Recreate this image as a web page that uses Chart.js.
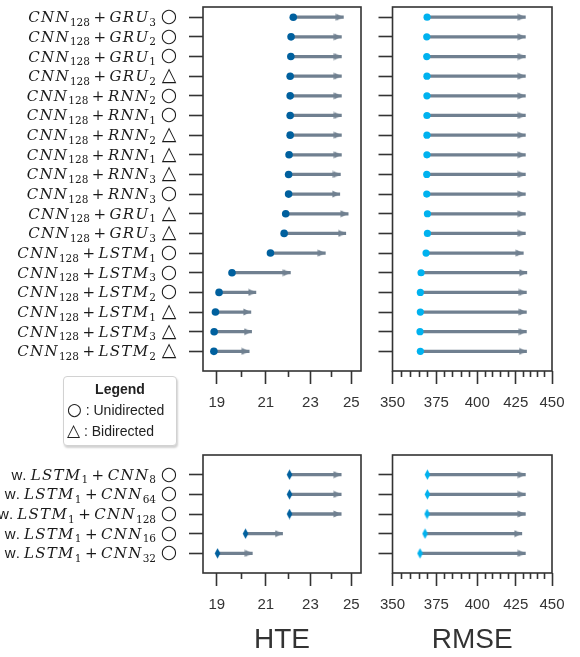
<!DOCTYPE html>
<html>
<head>
<meta charset="utf-8">
<script src="https://cdn.jsdelivr.net/npm/chart.js@4.4.1/dist/chart.umd.min.js"></script>
<style>
  html, body { margin: 0; padding: 0; background: #fff; }
  body { width: 580px; height: 657px; position: relative; overflow: hidden; font-family: 'Liberation Sans', sans-serif; }
  canvas { position: absolute; }
  #legend {
    position: absolute; left: 63px; top: 376px; width: 114px; height: 70px;
    box-sizing: border-box; border: 1px solid #d2d2d2; border-radius: 4px;
    box-shadow: 1px 2px 2px rgba(0, 0, 0, 0.18); background: #fff;
    color: #222; font-size: 14px; line-height: 21px; padding-top: 2px;
  }
  #legend .title { text-align: center; font-weight: bold; }
  #legend .row { padding-left: 3px; white-space: nowrap; }
  #legend .sym { font-family: 'DejaVu Sans', sans-serif; font-size: 17px; line-height: 14px; }
</style>
</head>
<body>
<canvas id="topHte" width="370" height="420" style="left:0;top:0"></canvas>
<canvas id="topRmse" width="210" height="420" style="left:370px;top:0"></canvas>
<canvas id="botHte" width="370" height="217" style="left:0;top:440px"></canvas>
<canvas id="botRmse" width="210" height="217" style="left:370px;top:440px"></canvas>
<div id="legend">
  <div class="title">Legend</div>
  <div class="row"><span class="sym">○</span> : Unidirected</div>
  <div class="row"><span class="sym">△</span> : Bidirected</div>
</div>
<script>
/* ---- DATA ---- */
const topCategories = [
    '$CNN_{128} + GRU_3$', '$CNN_{128} + GRU_2$', '$CNN_{128} + GRU_1$', '$CNN_{128} + GRU_2$',
    '$CNN_{128} + RNN_2$', '$CNN_{128} + RNN_1$', '$CNN_{128} + RNN_2$', '$CNN_{128} + RNN_1$',
    '$CNN_{128} + RNN_3$', '$CNN_{128} + RNN_3$', '$CNN_{128} + GRU_1$', '$CNN_{128} + GRU_3$',
    '$CNN_{128} + LSTM_1$', '$CNN_{128} + LSTM_3$', '$CNN_{128} + LSTM_2$', '$CNN_{128} + LSTM_1$',
    '$CNN_{128} + LSTM_3$', '$CNN_{128} + LSTM_2$'
];
const topMarks = ['○', '○', '○', '△', '○', '○', '△', '△', '△', '○', '△', '△', '○', '○', '○', '△', '△', '△'];

const topHteStart  = [22.21, 22.11, 22.10, 22.07, 22.07, 22.07, 22.07, 22.02, 22.00, 22.00, 21.87, 21.80, 21.20, 19.60, 19.09, 18.95, 18.90, 18.89];
const topHteEnd    = [24.60, 24.50, 24.50, 24.50, 24.50, 24.50, 24.50, 24.50, 24.45, 24.42, 24.84, 24.72, 23.71, 22.08, 20.58, 20.37, 20.40, 20.30];
const topRmseStart = [369.6, 369.4, 369.4, 369.5, 369.5, 369.5, 369.5, 369.5, 369.4, 369.4, 369.8, 369.8, 369.0, 366.1, 365.7, 365.7, 365.5, 365.7];
const topRmseEnd   = [431.5, 431.5, 431.5, 431.5, 431.5, 431.5, 431.5, 431.5, 431.5, 431.5, 431.5, 431.5, 430.1, 432.5, 432.2, 432.2, 432.2, 432.3];

const bottomCategories = [
    'w. $LSTM_1 + CNN_8$', 'w. $LSTM_1 + CNN_{64}$', 'w. $LSTM_1 + CNN_{128}$',
    'w. $LSTM_1 + CNN_{16}$', 'w. $LSTM_1 + CNN_{32}$'
];
const bottomMarks = ['○', '○', '○', '○', '○'];

const bottomHteStart  = [22.04, 22.04, 22.04, 20.15, 19.03];
const bottomHteEnd    = [24.49, 24.49, 24.49, 21.73, 20.43];
const bottomRmseStart = [369.8, 369.8, 369.6, 368.4, 365.5];
const bottomRmseEnd   = [431.5, 431.5, 431.5, 429.1, 431.5];

const hteTicks   = [19, 20, 21, 22, 23, 24, 25];
const hteLabels  = [19, 21, 23, 25];
const rmseTicks  = [350, 355, 360, 365, 370, 375, 380, 385, 390, 395, 400, 405, 410, 415, 420, 425, 430, 435, 440, 445, 450];
const rmseLabels = [350, 375, 400, 425, 450];

/* ---- STYLE ---- */
const HTE_COLOR = '#00609e';
const RMSE_COLOR = '#00b2ef';
const ARROW_COLOR = '#708090';
const AXIS_COLOR = '#333333';
const TICK_FONT = { family: "'Liberation Sans', sans-serif", size: 15 };

/* ---- MARKER IMAGES ---- */
function arrowHead(color) {
    const c = document.createElement('canvas');
    c.width = 16; c.height = 8;
    const g = c.getContext('2d');
    g.fillStyle = color;
    g.beginPath();
    g.moveTo(0.5, 0.5); g.lineTo(8, 4); g.lineTo(0.5, 7.5);
    g.closePath(); g.fill();
    return c;
}

function thinDiamond(color) {
    const c = document.createElement('canvas');
    c.width = 7; c.height = 11;
    const g = c.getContext('2d');
    g.fillStyle = color;
    g.beginPath();
    g.moveTo(3.5, 0.3); g.lineTo(6.3, 5.5); g.lineTo(3.5, 10.7); g.lineTo(0.7, 5.5);
    g.closePath(); g.fill();
    return c;
}

/* ---- LABEL RENDERING ---- */
function parseLabel(str) {
    const runs = [];
    str.split('$').forEach((part, k) => {
        if (k % 2 === 0) {
            if (part) runs.push({ text: part, kind: 'txt' });
            return;
        }
        let i = 0;
        while (i < part.length) {
            const c = part[i];
            if (c === ' ') { i++; continue; }
            if (c === '_') {
                let sub;
                if (part[i + 1] === '{') {
                    const j = part.indexOf('}', i);
                    sub = part.slice(i + 2, j);
                    i = j + 1;
                } else {
                    sub = part[i + 1];
                    i += 2;
                }
                runs.push({ text: sub, kind: 'sub' });
                continue;
            }
            if (c === '+') { runs.push({ text: '+', kind: 'op' }); i++; continue; }
            let j = i;
            while (j < part.length && /[A-Za-z]/.test(part[j])) j++;
            runs.push({ text: part.slice(i, j), kind: 'var' });
            i = j;
        }
    });
    return runs;
}

const runStyles = {
    txt: { font: "15px 'Liberation Sans'", dy: 0, pad: 0, sp: 0 },
    var: { font: "italic 15px 'DejaVu Serif'", dy: 0, pad: 0, sp: 1.3 },
    sub: { font: "10.5px 'DejaVu Serif'", dy: 3.5, pad: 0, sp: 0 },
    op:  { font: "15px 'DejaVu Serif'", dy: 0, pad: 3.5, sp: 0 }
};

function drawMathLabel(ctx, label, right, baseline) {
    const runs = parseLabel(label);
    let total = 0;
    runs.forEach(r => {
        const s = runStyles[r.kind];
        ctx.font = s.font;
        r.chars = [...r.text].map(ch => ctx.measureText(ch).width + s.sp);
        r.w = r.chars.reduce((a, b) => a + b, 0) + 2 * s.pad;
        total += r.w;
    });
    let x = right - total;
    ctx.textAlign = 'left';
    ctx.textBaseline = 'alphabetic';
    runs.forEach(r => {
        const s = runStyles[r.kind];
        ctx.font = s.font;
        let cx = x + s.pad;
        [...r.text].forEach((ch, k) => {
            ctx.fillText(ch, cx, baseline + s.dy);
            cx += r.chars[k];
        });
        x += r.w;
    });
}

const rowLabelPlugin = {
    id: 'rowLabels',
    afterDraw(chart, args, opts) {
        if (!opts.labels) return;
        const ctx = chart.ctx;
        const y = chart.scales.y;
        ctx.save();
        ctx.fillStyle = '#1a1a1a';
        opts.labels.forEach((lab, i) => {
            const py = y.getPixelForValue(i);
            drawMathLabel(ctx, lab, opts.textRight, py + 5);
            ctx.font = "19px 'DejaVu Sans'";
            ctx.textAlign = 'center';
            ctx.textBaseline = 'middle';
            ctx.fillText(opts.marks[i], opts.markX, py);
        });
        ctx.restore();
    }
};

const framePlugin = {
    id: 'frame',
    afterDraw(chart) {
        const { ctx, chartArea: a } = chart;
        ctx.save();
        ctx.strokeStyle = AXIS_COLOR;
        ctx.lineWidth = 1.6;
        ctx.strokeRect(a.left, a.top, a.right - a.left, a.bottom - a.top);
        ctx.restore();
    }
};

/* ---- PANELS ---- */
function buildPanel(id, cfg) {
    const rows = cfg.start.map((_, i) => i);
    const startStyle = cfg.diamond ? thinDiamond(cfg.dotColor) : 'circle';

    return new Chart(document.getElementById(id), {
        type: 'bar',
        data: {
            datasets: [
                {
                    type: 'scatter',
                    data: cfg.start.map((v, i) => ({ x: v, y: i })),
                    pointStyle: startStyle,
                    pointRadius: cfg.dotRadius,
                    backgroundColor: cfg.dotColor,
                    borderWidth: 0,
                    xAxisID: 'x', yAxisID: 'y',
                    order: 0
                },
                {
                    type: 'scatter',
                    data: cfg.end.map((v, i) => ({ x: v, y: i })),
                    pointStyle: arrowHead(ARROW_COLOR),
                    pointRadius: 4,
                    xAxisID: 'x', yAxisID: 'y',
                    order: 1
                },
                {
                    type: 'bar',
                    data: cfg.start.map((v, i) => ({ x: [v, cfg.end[i]], y: i })),
                    backgroundColor: ARROW_COLOR,
                    barThickness: 2.6,
                    xAxisID: 'x', yAxisID: 'y',
                    order: 2
                }
            ]
        },
        options: {
            responsive: false,
            animation: false,
            indexAxis: 'y',
            events: [],
            layout: { padding: { top: cfg.padTop, right: cfg.padRight, bottom: 0, left: 0 } },
            plugins: {
                legend: { display: false },
                tooltip: { enabled: false },
                rowLabels: cfg.labels ? { labels: cfg.labels, marks: cfg.marks, textRight: 156, markX: 169 } : {}
            },
            scales: {
                x: {
                    type: 'logarithmic',
                    min: cfg.xMin,
                    max: cfg.xMax,
                    offset: false,
                    afterFit: s => { s.height = cfg.xHeight; },
                    afterBuildTicks: s => { s.ticks = cfg.xTicks.map(v => ({ value: v })); },
                    ticks: {
                        autoSkip: false,
                        maxRotation: 0,
                        padding: 10,
                        color: AXIS_COLOR,
                        font: TICK_FONT,
                        callback: v => cfg.xLabels.includes(v) ? String(v) : ''
                    },
                    grid: {
                        offset: false,
                        drawOnChartArea: false,
                        tickLength: 13,
                        tickWidth: 1.6,
                        tickColor: AXIS_COLOR,
                        tickBorderDash: c => cfg.xLabels.includes(c.tick.value) ? [] : [6, 40]
                    },
                    border: { display: false },
                    title: cfg.title ? {
                        display: true,
                        text: cfg.title,
                        color: AXIS_COLOR,
                        font: { family: "'Liberation Sans', sans-serif", size: 28 },
                        padding: { top: 0, bottom: 0 }
                    } : { display: false }
                },
                y: {
                    type: 'linear',
                    reverse: true,
                    offset: false,
                    min: cfg.yMin,
                    max: cfg.yMax,
                    afterFit: s => { s.width = cfg.yWidth; },
                    afterBuildTicks: s => { s.ticks = rows.map(v => ({ value: v })); },
                    ticks: { display: false },
                    grid: {
                        offset: false,
                        drawOnChartArea: false,
                        tickLength: 14,
                        tickWidth: 1.6,
                        tickColor: AXIS_COLOR
                    },
                    border: { display: false }
                }
            }
        },
        plugins: [rowLabelPlugin, framePlugin]
    });
}

document.addEventListener('DOMContentLoaded', () => {
    buildPanel('topHte', {
        start: topHteStart, end: topHteEnd, dotColor: HTE_COLOR, dotRadius: 3.8,
        labels: topCategories, marks: topMarks,
        xMin: 18.475, xMax: 25.5, xTicks: hteTicks, xLabels: hteLabels,
        yMin: -0.52, yMax: 18, yWidth: 203, xHeight: 49, padTop: 7, padRight: 6
    });
    buildPanel('topRmse', {
        start: topRmseStart, end: topRmseEnd, dotColor: RMSE_COLOR, dotRadius: 3.6,
        xMin: 350, xMax: 450, xTicks: rmseTicks, xLabels: rmseLabels,
        yMin: -0.52, yMax: 18, yWidth: 22, xHeight: 49, padTop: 7, padRight: 28
    });
    buildPanel('botHte', {
        start: bottomHteStart, end: bottomHteEnd, dotColor: HTE_COLOR, dotRadius: 4, diamond: true,
        labels: bottomCategories, marks: bottomMarks, title: 'HTE',
        xMin: 18.475, xMax: 25.5, xTicks: hteTicks, xLabels: hteLabels,
        yMin: -1, yMax: 5, yWidth: 203, xHeight: 84, padTop: 15, padRight: 6
    });
    buildPanel('botRmse', {
        start: bottomRmseStart, end: bottomRmseEnd, dotColor: RMSE_COLOR, dotRadius: 4, diamond: true,
        title: 'RMSE',
        xMin: 350, xMax: 450, xTicks: rmseTicks, xLabels: rmseLabels,
        yMin: -1, yMax: 5, yWidth: 22, xHeight: 84, padTop: 15, padRight: 28
    });
});
</script>
</body>
</html>
